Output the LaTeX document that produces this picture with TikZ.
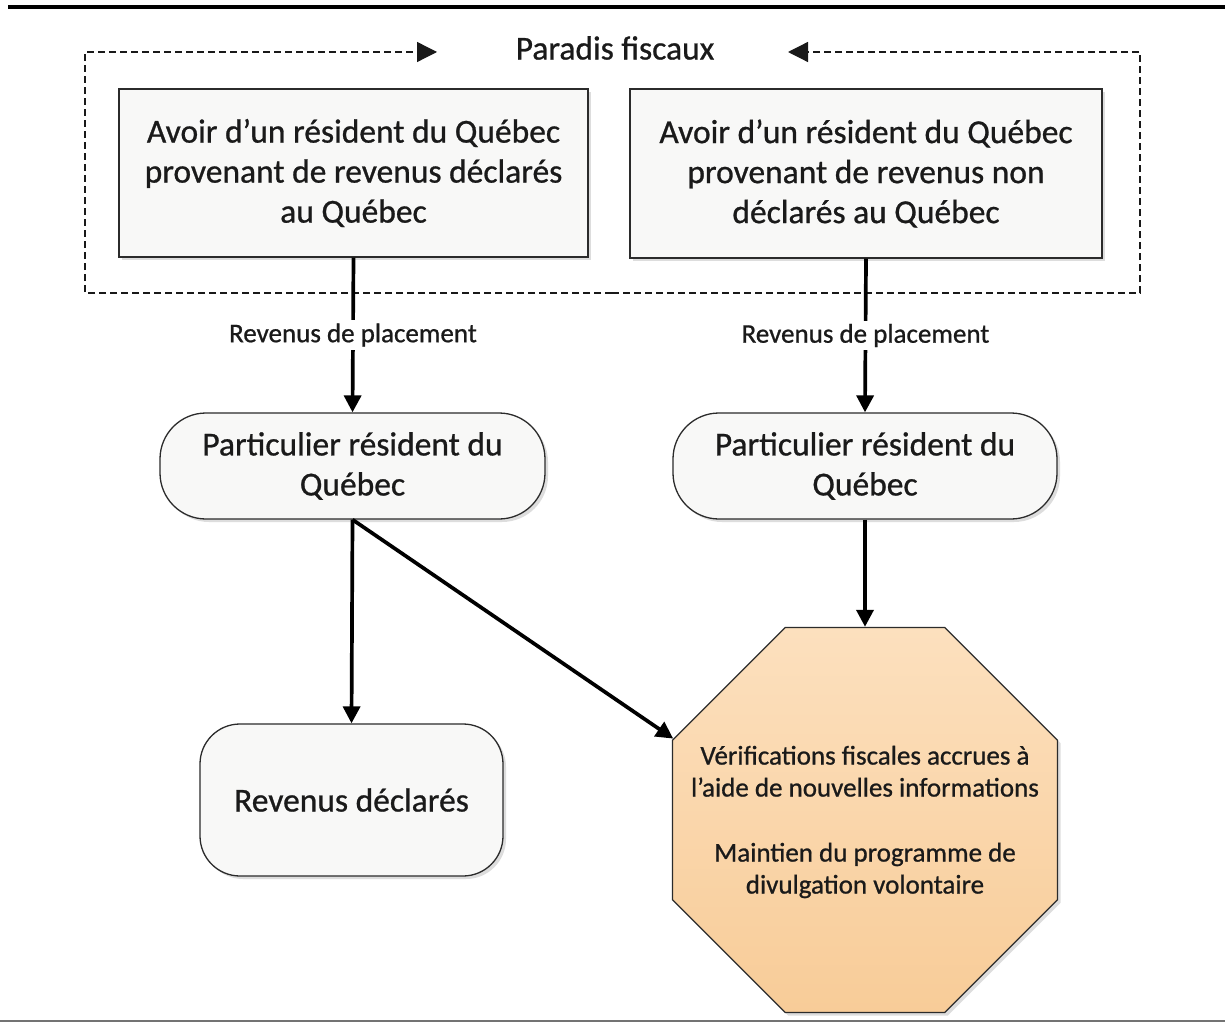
\documentclass[tikz,border=0pt]{standalone}
\usepackage{fontspec}
\setmainfont{Carlito}[FakeBold=0.8]
\usetikzlibrary{arrows.meta,shapes.geometric,shadows}

\definecolor{ink}{HTML}{1A1A1A}
\definecolor{edge}{HTML}{2B2B2B}
\definecolor{boxfill}{HTML}{F8F8F7}
\definecolor{peachtop}{HTML}{FCE0BE}
\definecolor{peachbot}{HTML}{F8CC98}

\begin{document}
\begin{tikzpicture}[
  x=1pt, y=-1pt,
  txt/.style={text=ink, font=\fontsize{33.5}{40}\selectfont, align=center},
  smalltxt/.style={text=ink, font=\fontsize{27}{32}\selectfont, align=center},
  shadowed/.style={drop shadow={shadow xshift=3pt, shadow yshift=-3pt, opacity=0.22, fill=black!60}},
  srcbox/.style={txt, draw=edge, line width=1.3pt, fill=boxfill, shadowed, inner sep=0pt},
  pillbox/.style={srcbox, rounded corners=46pt},
  outbox/.style={srcbox, rounded corners=40pt},
  octbox/.style={draw=edge, line width=1.3pt, regular polygon, regular polygon sides=8,
    minimum size=416.8pt, inner sep=0pt,
    top color=peachtop, bottom color=peachbot, shadowed},
  conn/.style={draw=black, line width=3.7pt, -{Triangle[length=17pt,width=17pt]}},
  frame/.style={draw=black!90, line width=1.3pt, dash pattern=on 7pt off 4pt,
    -{Triangle[length=20pt,width=20pt]}},
  flowlabel/.style={smalltxt, fill=white, inner sep=3pt}
]
\useasboundingbox (0,0) rectangle (1225,1024);
\fill[white] (0,0) rectangle (1225,1024);

% page rules
\draw[line width=4pt, black] (8,7) -- (1225,7);
\draw[line width=1.6pt, black!55] (0,1021) -- (1225,1021);

% title and dashed frame around the holdings
\node[txt] (pf) at (615,48) {Paradis fiscaux};
\coordinate (fbm) at (612,293);
\coordinate (ftl) at (85,52);
\coordinate (ftr) at (1140,52);
\coordinate (fla) at (437,52);
\coordinate (fra) at (788,52);
\draw[frame] (fbm) -| (ftl) -- (fla);
\draw[frame] (fbm) -| (ftr) -- (fra);

% holdings
\node[srcbox, minimum width=469pt, minimum height=168pt] (b1) at (353.5,173)
  {Avoir d’un résident du Québec\\provenant de revenus déclarés\\au Québec};
\node[srcbox, minimum width=472pt, minimum height=169pt] (b2) at (866,173.5)
  {Avoir d’un résident du Québec\\provenant de revenus non\\déclarés au Québec};

% individuals
\node[pillbox, minimum width=385pt, minimum height=106pt] (p1) at (352.5,466)
  {Particulier résident du\\Québec};
\node[pillbox, minimum width=384pt, minimum height=106pt] (p2) at (865,466)
  {Particulier résident du\\Québec};

% outcomes
\node[outbox, minimum width=303pt, minimum height=152pt] (rd) at (351.5,800)
  {Revenus déclarés};
\node[octbox] (oct) at (865,820) {};
\node[smalltxt, yshift=-2pt] (octtext) at (oct.center)
  {Vérifications fiscales accrues à\\l’aide de nouvelles informations\\[33pt]Maintien du programme de\\divulgation volontaire};

% flows
\draw[conn] (b1.south) -- node[flowlabel] {Revenus de placement} (p1.north);
\draw[conn] (b2.south) -- node[flowlabel] {Revenus de placement} (p2.north);
\draw[conn] (p1.south) -- (rd.north);
\draw[conn] (p1.south) -- (oct.157.5);
\draw[conn] (p2.south) -- (oct.north);
\end{tikzpicture}
\end{document}
